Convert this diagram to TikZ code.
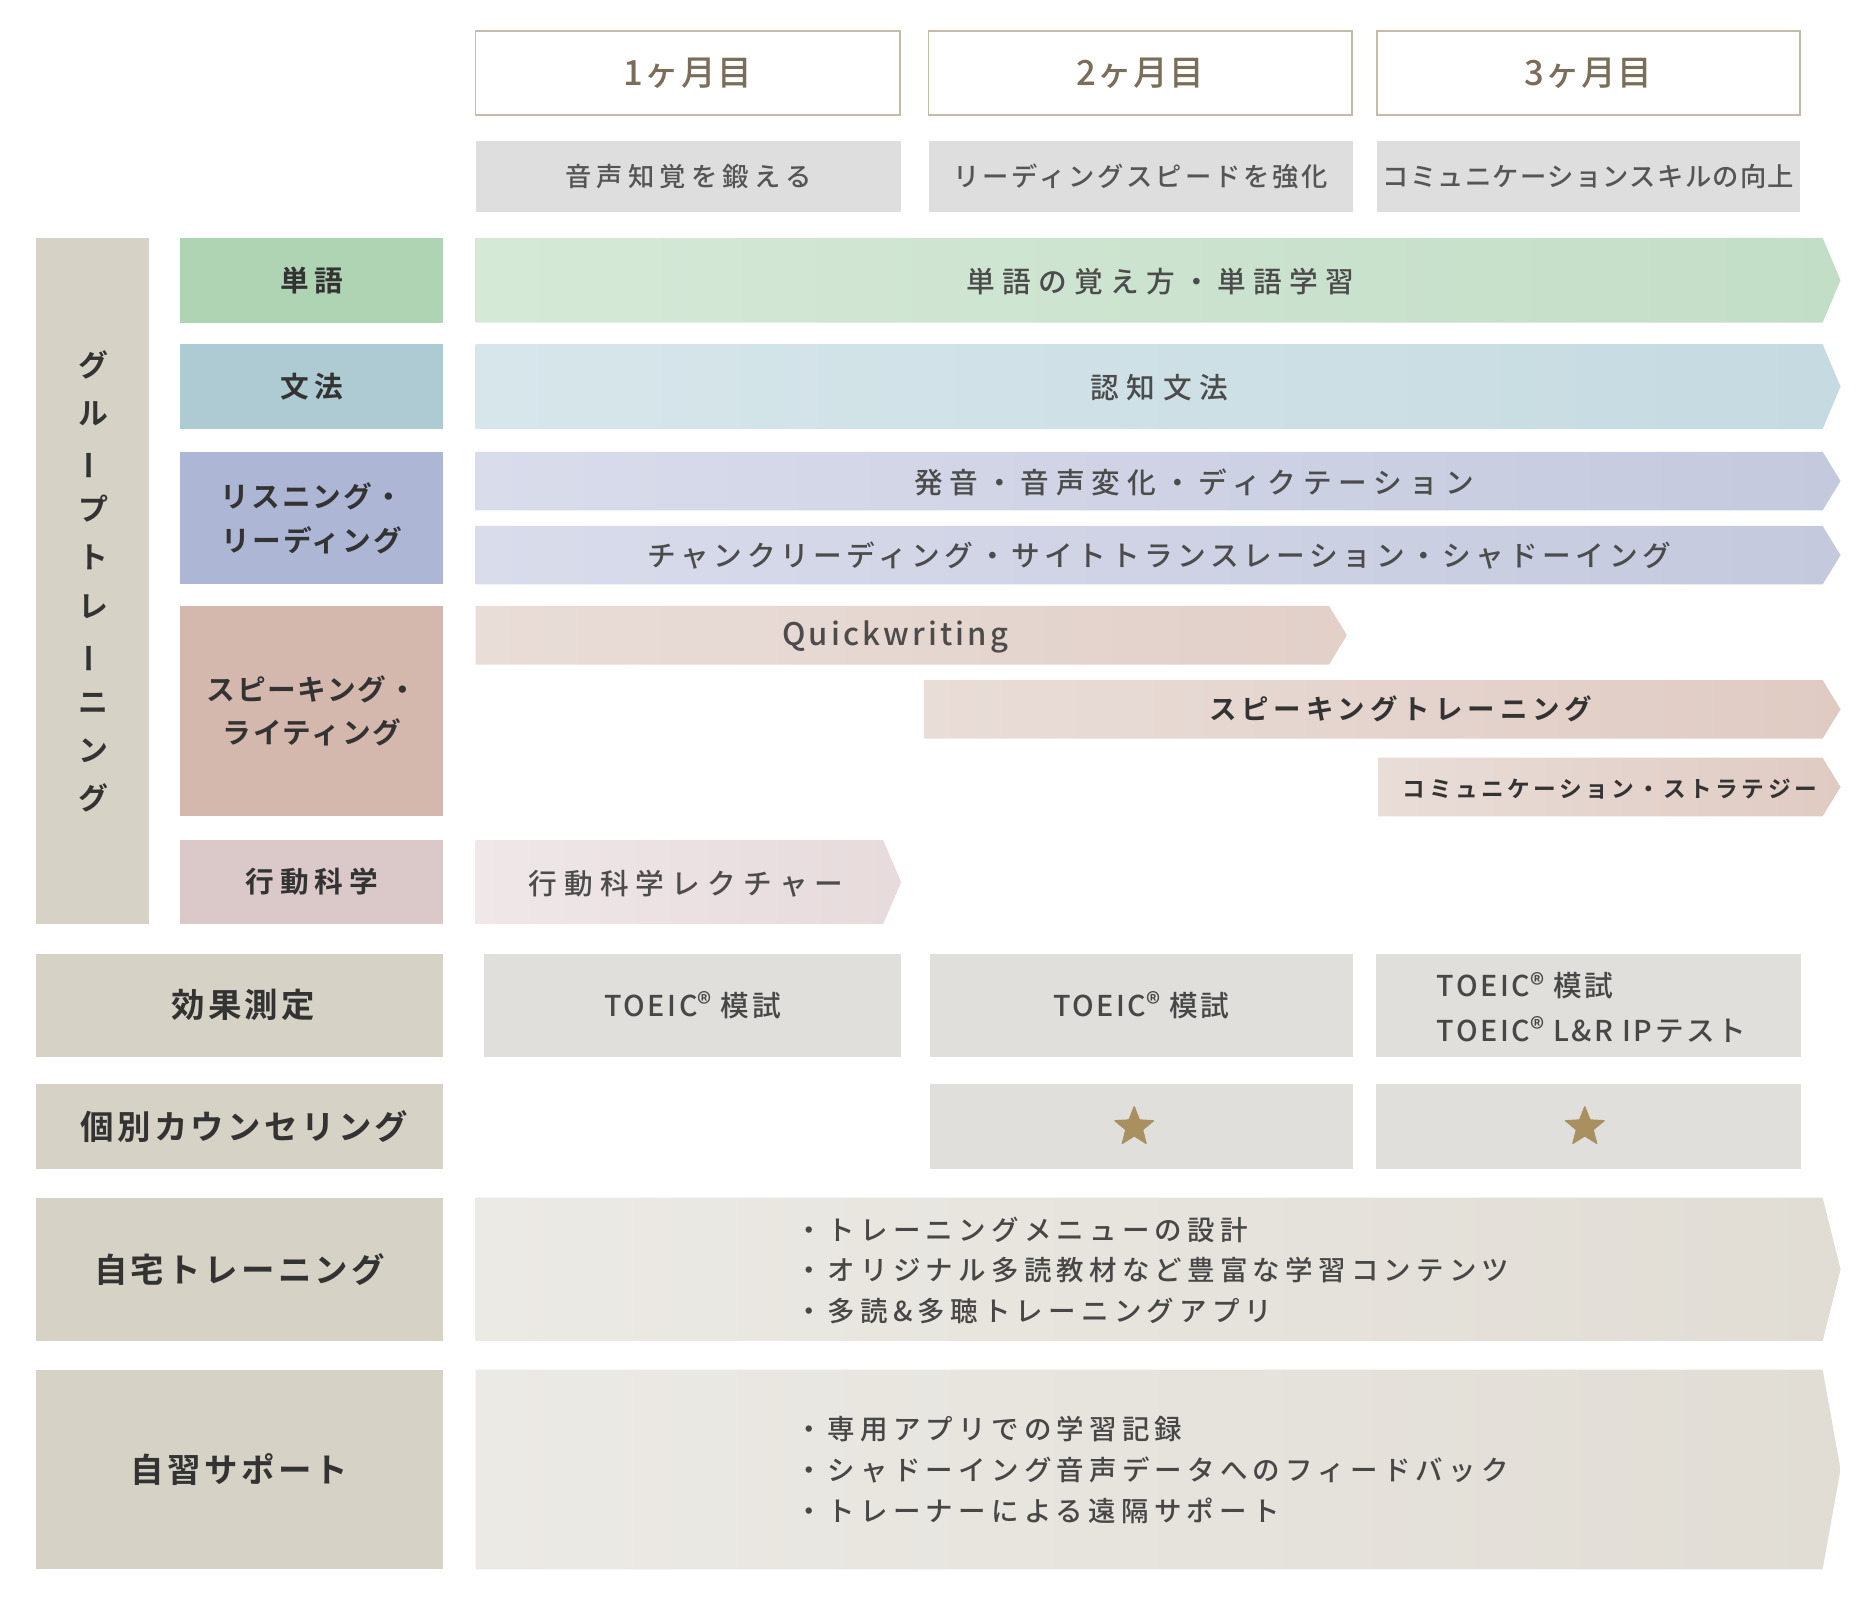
\documentclass[tikz,border=0pt]{standalone}
\usepackage{fontspec}
\usepackage{graphicx}
\setmainfont{Noto Sans CJK JP}[UprightFont=* Medium, BoldFont=* Bold]
\usetikzlibrary{shapes.geometric}

\definecolor{monthborder}{HTML}{C6BBA9}
\definecolor{monthtext}{HTML}{7A6E5A}
\definecolor{subgray}{HTML}{DEDEDE}
\definecolor{subtext}{HTML}{555555}
\definecolor{leftbeige}{HTML}{D7D2C6}
\definecolor{cattext}{HTML}{333333}
\definecolor{arrowtext}{HTML}{4C4C4C}
\definecolor{cellgray}{HTML}{E0DFDC}
\definecolor{celltext}{HTML}{474747}
\definecolor{gold}{HTML}{A89060}
\definecolor{c1fill}{HTML}{AFD4B4}
\definecolor{c2fill}{HTML}{AECBD4}
\definecolor{c3fill}{HTML}{AEB6D5}
\definecolor{c4fill}{HTML}{D4B8AE}
\definecolor{c5fill}{HTML}{DBC8C9}
\definecolor{a1L}{HTML}{D5E9D7}
\definecolor{a1R}{HTML}{C3DEC7}
\definecolor{a2L}{HTML}{D7E6EB}
\definecolor{a2R}{HTML}{C5DBE1}
\definecolor{a3L}{HTML}{D9DCEB}
\definecolor{a3R}{HTML}{C4C9DE}
\definecolor{a5L}{HTML}{E9DDD8}
\definecolor{a5R}{HTML}{E2D0C9}
\definecolor{a6R}{HTML}{E0CBC3}
\definecolor{a8L}{HTML}{EFE7E8}
\definecolor{a8R}{HTML}{E7DBDC}
\definecolor{a9L}{HTML}{ECEAE5}
\definecolor{a9R}{HTML}{E1DDD5}

\newcommand\ls[1]{\addfontfeatures{LetterSpace=#1}}
\newcommand\reg{\raisebox{0.05em}{\scalebox{1.0}{®}}}
\newcommand\monthfont{\fontsize{29}{32}\selectfont\ls{4}}
\newcommand\subfont{\fontsize{22}{26}\selectfont}
\newcommand\catfont{\bfseries\fontsize{24}{37}\selectfont}
\newcommand\leftfont{\bfseries\fontsize{28}{32}\selectfont\ls{10}}
\newcommand\arrowfont{\fontsize{24}{28}\selectfont}
\newcommand\cellfont{\fontsize{24}{37}\selectfont\ls{9}}

% name, x1, y1, x2, y2, style, text
\newcommand\cell[7]{\node[#6, inner sep=0pt, outer sep=0pt,
  minimum width={(#4-#2)*1pt}, minimum height={(#5-#3)*1pt}]
  (#1) at ({(#2+#4)/2},{(#3+#5)/2}) {#7};}
% name, x1, y1, x2 (tip), y2, left colour, right colour
\newcommand\barrow[7]{\shade[left color=#6, right color=#7]
  (#2,#3) -- ({#4-15},#3) -- (#4,{(#3+#5)/2}) -- ({#4-15},#5) -- (#2,#5) -- cycle;
  \coordinate (#1) at ({(#2+#4)/2},{(#3+#5)/2});}

\begin{document}
\begin{tikzpicture}[x=1pt,y=-1pt,
  monthbox/.style={draw=monthborder, line width=1.3pt, fill=white, text=monthtext, font=\monthfont},
  subbox/.style={fill=subgray, text=subtext, font=\subfont},
  catbox/.style={text=cattext, font=\catfont},
  leftbox/.style={fill=leftbeige, text=cattext, font=\leftfont},
  cellbox/.style={fill=cellgray, text=celltext, font=\cellfont},
  atxt/.style={text=arrowtext, font=\arrowfont, inner sep=0pt},
  btxt/.style={text=celltext, font={\fontsize{23}{34}\selectfont\ls{19}}, inner sep=0pt, anchor=west, align=left},
  vtxt/.style={text=cattext, font={\bfseries\fontsize{25}{40.3}\selectfont}, inner sep=0pt, align=center},
  starmark/.style={star, star points=5, star point ratio=2.3, minimum size=34pt, inner sep=0pt, fill=gold, draw=gold, line width=1pt, line join=round}
]
\path[use as bounding box, fill=white] (0,0) rectangle (1568,1347);

% month headers
\cell{m1}{398}{26}{753}{96}{monthbox}{1ヶ月目}
\cell{m2}{777}{26}{1131}{96}{monthbox}{2ヶ月目}
\cell{m3}{1152}{26}{1506}{96}{monthbox}{3ヶ月目}
\cell{s1}{398}{118}{754}{177}{subbox}{\ls{20}音声知覚を鍛える}
\cell{s2}{777}{118}{1132}{177}{subbox}{\ls{11}リーディングスピードを強化}
\cell{s3}{1152}{118}{1506}{177}{subbox}{\ls{5}コミュニケーションスキルの向上}

% group training bar
\cell{gt}{30}{199}{125}{773}{fill=leftbeige}{}
\node[vtxt] (gtt) at (78,486.5) {グ\\ル\\\rotatebox[origin=c]{90}{ー}\\プ\\ト\\レ\\\rotatebox[origin=c]{90}{ー}\\ニ\\ン\\グ};

% categories
\cell{c1}{151}{199}{371}{270}{catbox, fill=c1fill}{\ls{20}単語}
\cell{c2}{151}{288}{371}{359}{catbox, fill=c2fill}{\ls{20}文法}
\cell{c3}{151}{378}{371}{489}{catbox, fill=c3fill, align=center, font={\catfont\ls{7}}}{リスニング・\\リーディング}
\cell{c4}{151}{507}{371}{683}{catbox, fill=c4fill, align=center, font={\bfseries\fontsize{24}{36}\selectfont\ls{6}}}{スピーキング・\\ライティング}
\cell{c5}{151}{703}{371}{773}{catbox, fill=c5fill}{\ls{20}行動科学}

% arrows
\barrow{a1}{398}{199}{1540}{270}{a1L}{a1R}
\barrow{a2}{398}{288}{1540}{359}{a2L}{a2R}
\barrow{a3}{398}{378}{1540}{427}{a3L}{a3R}
\barrow{a4}{398}{440}{1540}{489}{a3L}{a3R}
\barrow{a5}{398}{507}{1127}{556}{a5L}{a5R}
\barrow{a6}{773}{569}{1540}{618}{a5L}{a6R}
\barrow{a7}{1153}{634}{1540}{683}{a5L}{a6R}
\barrow{a8}{398}{703}{754}{773}{a8L}{a8R}
\barrow{a9}{398}{1002}{1540}{1122}{a9L}{a9R}
\barrow{a10}{398}{1146}{1540}{1313}{a9L}{a9R}

\node[atxt] (t1) at (971,236) {\ls{25}単語の覚え方・単語学習};
\node[atxt] (t2) at (970,324) {\ls{26}認知文法};
\node[atxt] (t3) at (999,404) {\ls{24}発音・音声変化・ディクテーション};
\node[atxt] (t4) at (970,465) {\ls{16}チャンクリーディング・サイトトランスレーション・シャドーイング};
\node[atxt, font={\fontsize{26}{30}\selectfont}] (t5) at (749,533) {\ls{10}Quickwriting};
\node[atxt, text=cattext, font={\bfseries\fontsize{23}{27}\selectfont}] (t6) at (1172,593) {\ls{18}スピーキングトレーニング};
\node[atxt, text=cattext, font={\bfseries\fontsize{19}{23}\selectfont}] (t7) at (1347,660) {\ls{15}コミュニケーション・ストラテジー};
\node[atxt] (t8) at (574,739) {\ls{25}行動科学レクチャー};

% lower rows
\cell{l1}{30}{798}{371}{884}{leftbox}{\hspace*{6pt}効果測定}
\cell{l2}{30}{907}{371}{978}{leftbox}{\hspace*{8pt}個別カウンセリング}
\cell{l3}{30}{1002}{371}{1122}{leftbox}{自宅トレーニング}
\cell{l4}{30}{1146}{371}{1313}{leftbox}{自習サポート}

\cell{e1}{405}{798}{754}{884}{cellbox}{TOEIC\reg\ 模試}
\cell{e2}{778}{798}{1132}{884}{cellbox}{TOEIC\reg\ 模試}
\cell{e3}{1151}{798}{1507}{884}{cellbox}{}
\node[text=celltext, font=\cellfont, inner sep=0pt, anchor=west, align=left] (e3t) at (1202,843) {TOEIC\reg\ 模試\\TOEIC\reg\ L\&R IPテスト};

\cell{k1}{778}{907}{1132}{978}{cellbox}{}
\cell{k2}{1151}{907}{1507}{978}{cellbox}{}
\node[starmark] (st1) at (949,943) {};
\node[starmark] (st2) at (1326,943) {};

\node[btxt] (b1) at (665,1063) {・トレーニングメニューの設計\\・オリジナル多読教材など豊富な学習コンテンツ\\・多読\&多聴トレーニングアプリ};
\node[btxt] (b2) at (665,1230) {・専用アプリでの学習記録\\・シャドーイング音声データへのフィードバック\\・トレーナーによる遠隔サポート};
\end{tikzpicture}
\end{document}
